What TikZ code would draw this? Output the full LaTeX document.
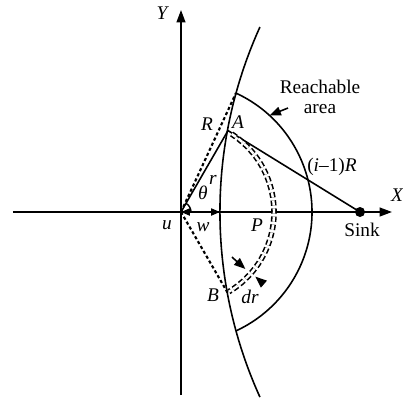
\documentclass[tikz,border=0pt]{standalone}
\usepackage{fontspec}
\setmainfont{Liberation Serif}
\usetikzlibrary{arrows.meta, positioning, calc}

\begin{document}
\begin{tikzpicture}[
  font=\fontsize{11}{13}\selectfont,
  curve/.style={line width=0.9pt, black},
  axis/.style={line width=0.9pt, -{Triangle[length=7pt,width=5pt]}},
  dotline/.style={line width=1.2pt, dash pattern=on 1.8pt off 1.4pt},
  band/.style={line width=0.9pt, double, double distance=1.4pt, dash pattern=on 3pt off 1.6pt},
  tip/.style={line width=0.9pt, -{Triangle[length=6.5pt,width=5pt]}},
  lbl/.style={inner sep=1pt, font=\fontsize{11}{13}\selectfont\itshape},
  txt/.style={inner sep=1pt, align=center}
]
  \useasboundingbox (-3.62,-3.86) rectangle (4.44,4.24);

  % Points
  \coordinate (u) at (0,0);
  \coordinate (A) at (60:1.88);
  \coordinate (T) at (65.2:2.62);
  \coordinate (B) at (-60:1.88);
  \coordinate (W) at (0.78,0);
  \coordinate (sinkpt) at (3.58,0);
  \coordinate (reach) at (47.5:2.62);

  % Axes
  \coordinate (xs) at (-3.36,0);
  \coordinate (xe) at (4.22,0);
  \coordinate (ys) at (0,-3.66);
  \coordinate (ye) at (0,4.04);
  \draw[axis] (xs) -- (xe);
  \draw[axis] (ys) -- (ye);
  \node[lbl] (xlab) at (4.32,0.34) {X};
  \node[lbl] (ylab) at (-0.38,3.98) {Y};

  % Boundary of the hop and reachable area
  \draw[curve] (1.579,3.70) arc[start angle=155.6, end angle=204.4, radius=8.96cm];
  \draw[curve] (T) arc[start angle=65.2, end angle=-65.2, radius=2.62cm];

  % Lines from u
  \draw[curve] (u) -- (A) -- (sinkpt);
  \draw[dotline] (u) -- (T);
  \draw[dotline] (u) -- (B);
  \draw[band] (57:1.86) arc[start angle=57, end angle=-59, radius=1.86cm];
  \draw[line width=0.8pt] (0.2,0) arc[start angle=0, end angle=60, radius=0.2cm];
  \draw[line width=0.9pt, {Triangle[length=5pt,width=4pt]}-{Triangle[length=5pt,width=4pt]}] (u) -- (W);

  % dr arrows
  \coordinate (dra) at (-41.5:1.36);
  \coordinate (drb) at (-41.5:1.72);
  \coordinate (drc) at (-41:2.18);
  \coordinate (drd) at (-41:1.97);
  \draw[tip] (dra) -- (drb);
  \draw[tip] (drc) -- (drd);

  % Sink
  \node[circle, fill=black, inner sep=0pt, minimum size=0.2cm] (sink) at (sinkpt) {};
  \node[txt] (sinklab) at (3.62,-0.36) {Sink};

  % Labels
  \node[lbl] (Rlab) at (0.52,1.76) {R};
  \node[lbl] (Alab) at (1.14,1.80) {A};
  \node[lbl] (rlab) at (0.64,0.64) {r};
  \node[lbl] (thlab) at (0.44,0.38) {θ};
  \node[lbl] (ulab) at (-0.28,-0.26) {u};
  \node[lbl] (wlab) at (0.44,-0.30) {w};
  \node[lbl] (Plab) at (1.52,-0.26) {P};
  \node[lbl] (Blab) at (0.64,-1.66) {B};
  \node[lbl] (drlab) at (1.38,-1.70) {dr};
  \node[txt] (hoplab) at (3.02,0.90) {(\textit{i}–1)\textit{R}};
  \node[txt] (reachlab) at (2.78,2.30) {Reachable\\[-2pt]area};
  \coordinate (reachtail) at (2.14,2.08);
  \draw[tip] (reachtail) -- (reach);
\end{tikzpicture}
\end{document}
